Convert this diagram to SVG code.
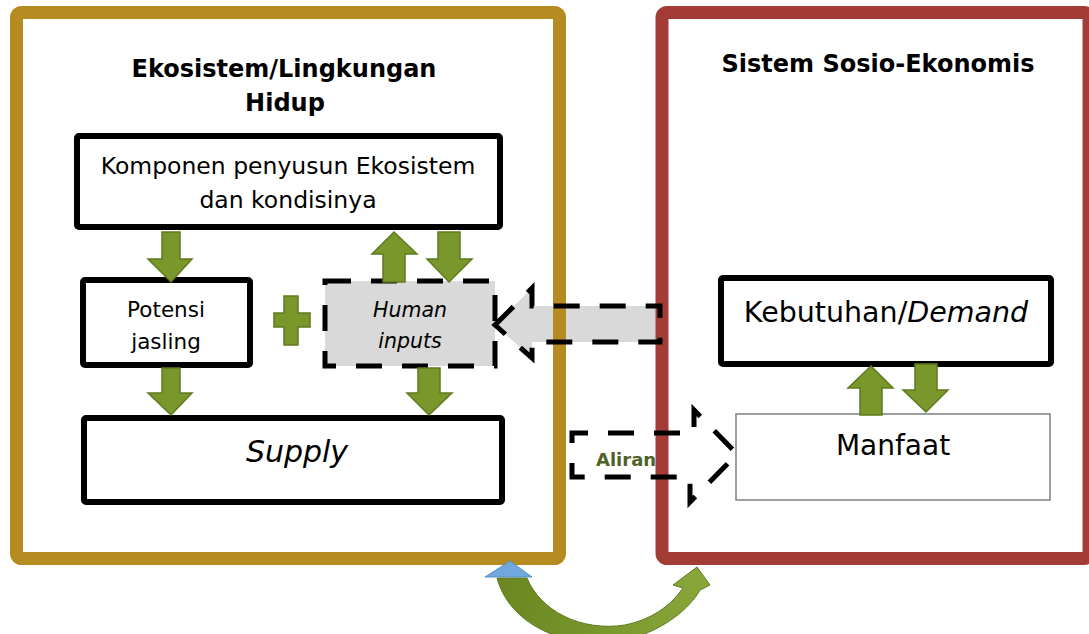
<svg xmlns="http://www.w3.org/2000/svg" width="1089" height="634" viewBox="0 0 1089 634">
  <defs>
    <style>
      .t { font-family: "DejaVu Sans", "Liberation Sans", sans-serif; fill: #000; text-anchor: middle; }
      .title { font-weight: bold; font-size: 24px; }
      .box { fill: #fff; stroke: #000; stroke-width: 6; stroke-linejoin: round; }
      .g { fill: #7A972B; stroke: #5F7A1F; stroke-width: 1.5; stroke-linejoin: miter; }
      .dash { fill: none; stroke: #000; stroke-width: 5; stroke-dasharray: 26 20; }
    </style>
    <linearGradient id="cycleGrad" x1="0" y1="0" x2="1" y2="0">
      <stop offset="0" stop-color="#6A8620"/>
      <stop offset="1" stop-color="#8AA83A"/>
    </linearGradient>
  </defs>
  <rect width="1089" height="634" fill="#fff"/>

  <!-- fill of the block arrow into Human inputs (sits under the frames) -->
  <polygon points="495,325 532,288 532,306 660,306 660,342 532,342 532,358" fill="#D9D9D9"/>

  <!-- frames -->
  <g id="ekosistem-frame">
    <rect x="16.5" y="12.5" width="543" height="546" rx="5" fill="none" stroke="#B58B22" stroke-width="13"/>
    <text class="t title" x="284" y="77">Ekosistem/Lingkungan</text>
    <text class="t title" x="285" y="111">Hidup</text>
  </g>
  <g id="sosio-frame">
    <rect x="662" y="12.5" width="427" height="546" rx="5" fill="none" stroke="#A33B36" stroke-width="13"/>
    <text class="t title" x="878" y="72">Sistem Sosio-Ekonomis</text>
  </g>

  <!-- nodes -->
  <g id="komponen">
    <rect class="box" x="77" y="136" width="423" height="91" rx="2"/>
    <text class="t" x="288" y="174" font-size="23.5">Komponen penyusun Ekosistem</text>
    <text class="t" x="288" y="208" font-size="23.5">dan kondisinya</text>
  </g>
  <g id="potensi">
    <rect class="box" x="83" y="280" width="167" height="85" rx="2" stroke-width="5"/>
    <text class="t" x="166" y="317" font-size="21.5">Potensi</text>
    <text class="t" x="166" y="349" font-size="21.5">jasling</text>
  </g>
  <g id="plus">
    <path class="g" d="M284,296 H298 V313 H310 V327 H298 V345 H284 V327 H274 V313 H284 Z"/>
  </g>
  <g id="human-inputs">
    <rect x="325" y="281" width="170" height="85" fill="#D9D9D9"/>
    <rect x="325" y="281" width="170" height="85" class="dash"/>
    <text class="t" x="410" y="317" font-size="20.5" font-style="italic">Human</text>
    <text class="t" x="410" y="348" font-size="20.5" font-style="italic">inputs</text>
  </g>
  <g id="supply">
    <rect class="box" x="84" y="418" width="418" height="84" rx="2"/>
    <text class="t" x="297" y="462" font-size="30" font-style="italic">Supply</text>
  </g>
  <g id="kebutuhan">
    <rect class="box" x="721" y="278" width="330" height="86" rx="2"/>
    <text class="t" x="886" y="322" font-size="28.5">Kebutuhan/<tspan font-style="italic">Demand</tspan></text>
  </g>
  <g id="manfaat">
    <rect x="736" y="414" width="314" height="86" fill="#fff" stroke="#7F7F7F" stroke-width="1.5"/>
    <text class="t" x="893" y="455" font-size="28">Manfaat</text>
  </g>

  <!-- connectors -->
  <g id="connectors">
    <!-- Komponen -> Potensi -->
    <polygon class="g" points="162,232 180,232 180,259 192,259 171,282 148,259 162,259"/>
    <!-- Human inputs -> Komponen -->
    <polygon class="g" points="383,282 405,282 405,254 417,254 394,232 372,254 383,254"/>
    <!-- Komponen -> Human inputs -->
    <polygon class="g" points="438,232 460,232 460,259 472,259 449,282 427,259 438,259"/>
    <!-- Potensi -> Supply -->
    <polygon class="g" points="162,368 180,368 180,393 192,393 171,415 148,393 162,393"/>
    <!-- Human inputs -> Supply -->
    <polygon class="g" points="418,368 440,368 440,393 452,393 429,415 407,393 418,393"/>
    <!-- Manfaat -> Kebutuhan -->
    <polygon class="g" points="860,415 882,415 882,388 893,388 871,366 848,388 860,388"/>
    <!-- Kebutuhan -> Manfaat -->
    <polygon class="g" points="915,364 937,364 937,390 948,390 926,412 903,390 915,390"/>

    <!-- dashed block arrow from the socio-economic side into Human inputs -->
    <polygon class="dash" points="495,325 532,288 532,306 660,306 660,342 532,342 532,358"/>

    <!-- Aliran: dashed block arrow towards Manfaat -->
    <polygon class="dash" points="572,477 572,433 694,433 694,410 737,454 690,502 690,477" stroke-dashoffset="12"/>
    <text x="596" y="466" font-family="DejaVu Sans, Liberation Sans, sans-serif" font-weight="bold" font-size="18" fill="#4F6228">Aliran</text>

    <!-- cycle arrow below the frames -->
    <path d="M497,578 C512,634 585,652 630,639 C665,629 690,608 700,590 L710,585 L697,567 L673,585 L683,588 C670,607 650,620 625,625 C580,632 540,610 527,578 Z" fill="url(#cycleGrad)" stroke="#5F7A1F" stroke-width="1"/>
    <polygon points="510,561 485,577 532,577" fill="#6FA8DC" stroke="#5B8FC4" stroke-width="1"/>
  </g>
</svg>
